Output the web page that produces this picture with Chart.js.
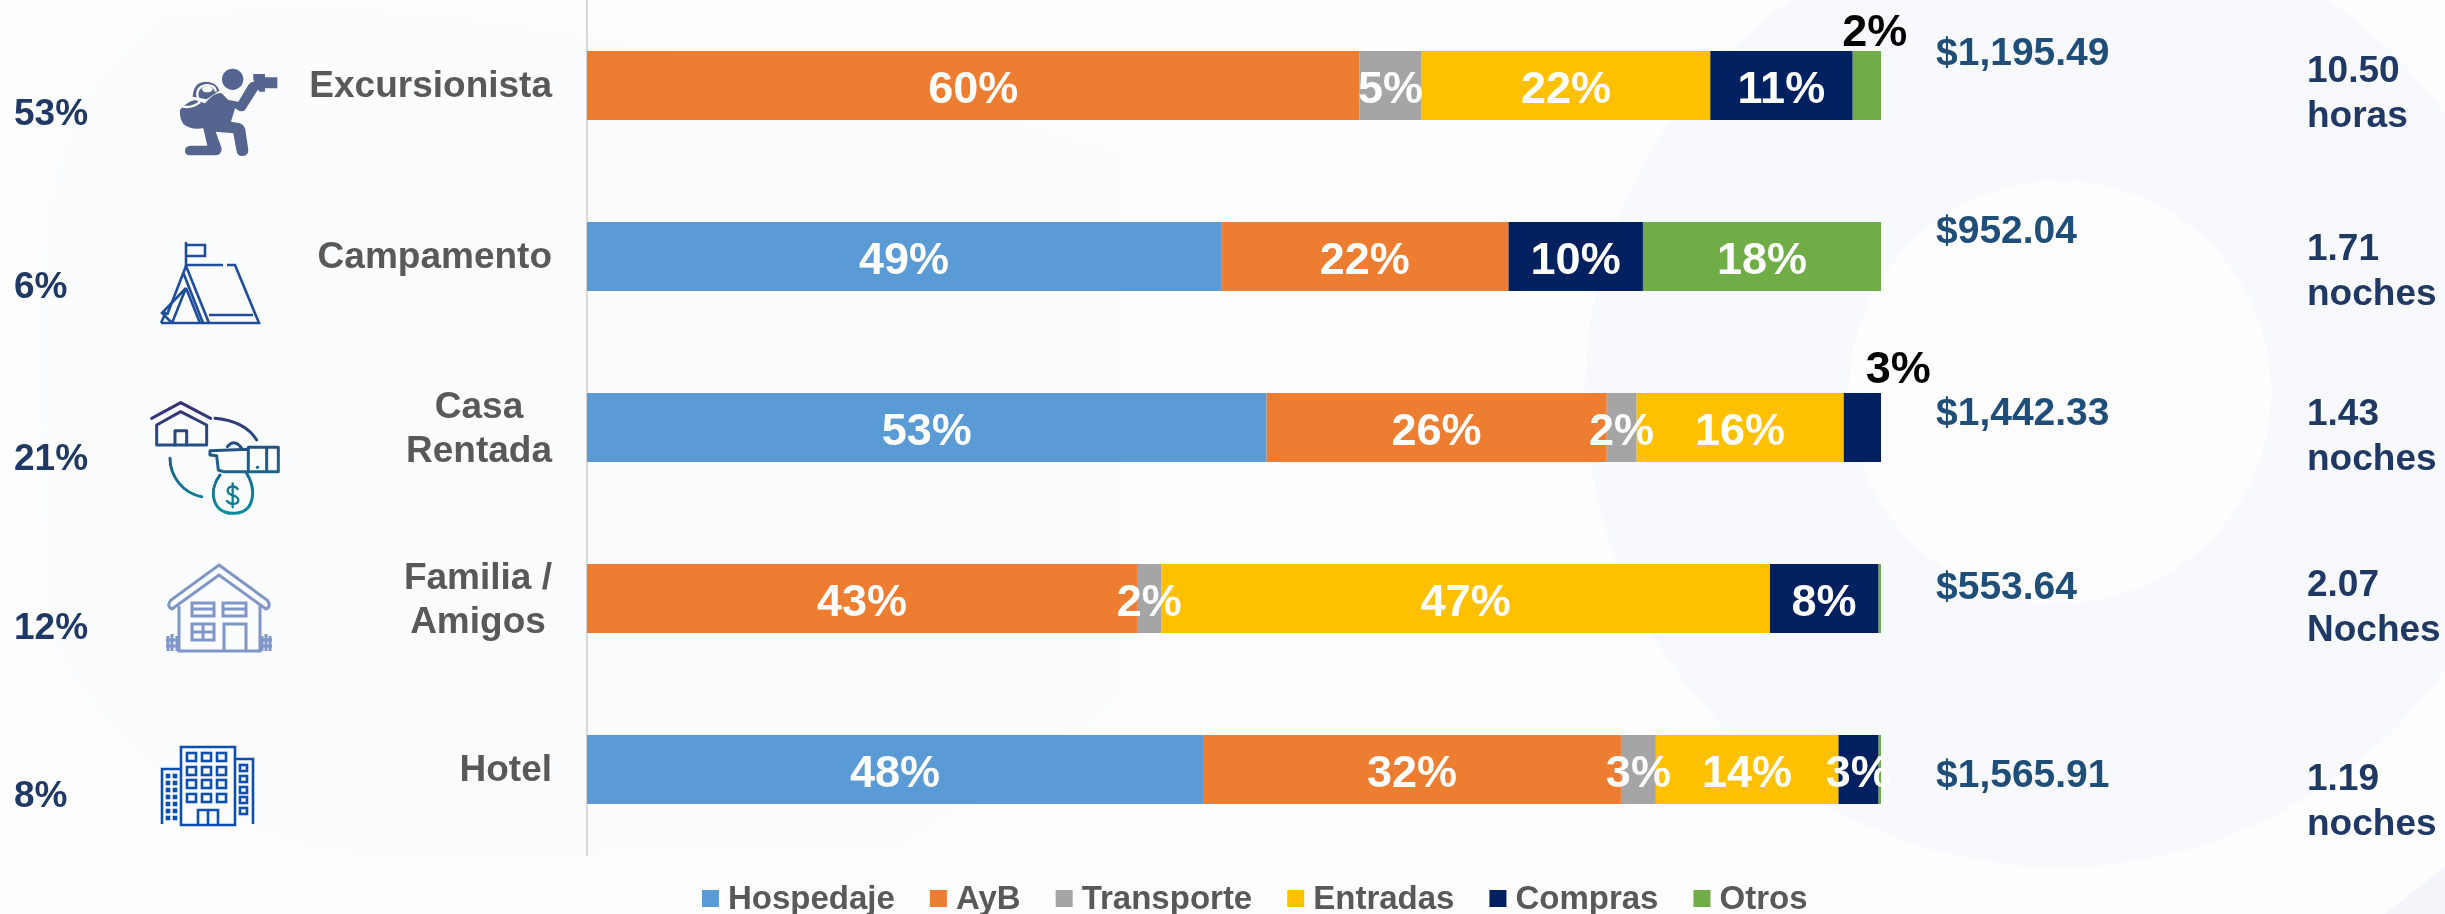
<!DOCTYPE html>
<html lang="es">
<head>
<meta charset="UTF-8">
<title>Gasto por tipo de hospedaje</title>
<script src="https://cdn.jsdelivr.net/npm/chart.js@4"></script>
<style>
    html, body { margin: 0; padding: 0; background: #fdfdfe; overflow: hidden; }
    #wrap { position: relative; width: 2445px; height: 914px; }
    #wrap svg, #wrap canvas { position: absolute; left: 0; top: 0; }
</style>
</head>
<body>
<div id="wrap">
    <!-- faint watermark behind the chart -->
    <svg width="2445" height="914" viewBox="0 0 2445 914">
        <path d="M158 17 C90 70 40 150 40 300 C40 480 40 600 59 656 C120 760 220 830 316 850 C420 870 520 860 640 853 L900 853 C960 800 1010 800 1040 780 L1120 700 L1120 150 L1020 120 L620 40 C420 0 260 0 158 17 Z" fill="#fbfcfe"/>
        <circle cx="2060" cy="392" r="475" fill="#f7f9fc"/>
        <circle cx="2060" cy="392" r="211" fill="#fdfdfe"/>
        <path d="M2385 914 L2445 867 V914 Z" fill="#f3f5fa"/>
    </svg>

    <!-- icons -->
    <svg width="2445" height="914" viewBox="0 0 2445 914">
        <defs>
            <linearGradient id="moneyGrad" gradientUnits="userSpaceOnUse" x1="0" y1="30" x2="0" y2="370">
                <stop offset="0" stop-color="#3c2a78"/>
                <stop offset="0.5" stop-color="#1f5a86"/>
                <stop offset="1" stop-color="#0a8c9c"/>
            </linearGradient>
        </defs>

        <!-- excursionista -->
        <g transform="translate(150 50) scale(0.3333)" fill="#56658f">
            <circle cx="248" cy="88" r="32"/>
            <path d="M310 72 H345 V82 H382 V115 H345 V125 H328 L310 90 Z"/>
            <path d="M90 180 Q110 155 135 150 L165 160 Q195 125 215 130 L235 150 L265 155 L295 105 Q305 90 320 98 Q330 108 322 122 L285 180 Q275 190 255 175 L243 215 L270 220 Q285 225 287 245 L295 300 Q295 318 275 318 Q262 318 259 300 L250 250 L197 245 L215 295 Q215 315 198 316 H120 Q105 315 105 302 Q105 288 122 287 H172 L160 235 Q120 240 100 222 Q88 205 90 180 Z"/>
            <path d="M128 140 Q130 98 165 95 Q200 95 208 122 L170 148 Z"/>
            <path d="M98 170 Q125 175 148 158 L142 135 Q140 112 165 106 Q195 104 198 125" fill="none" stroke="#fbfcfe" stroke-width="7"/>
            <ellipse cx="172" cy="118" rx="16" ry="9" fill="#fbfcfe"/>
        </g>

        <!-- campamento -->
        <g fill="none" stroke="#1f4e9c" stroke-width="2.6">
            <path d="M186 268 V242 M186 245 h19 v11 h-19"/>
            <path d="M186 265 H223 M227 265 H235 L259 323 H161"/>
            <path d="M186 266 L167 315 M186 266 L209 323 M183 272 L203 323"/>
            <path d="M186 288 L172 323 M186 288 L200 323 M186 288 L162 313 L172 323 M161 323 L166 312"/>
            <path d="M209 315 H253"/>
        </g>

        <!-- casa rentada -->
        <g transform="translate(140 390) scale(0.3333)" fill="none" stroke="url(#moneyGrad)" stroke-width="9" stroke-linecap="round" stroke-linejoin="round">
            <path d="M35 85 L122 38 L212 85"/>
            <path d="M50 165 V105 L122 65 L200 105 V165 Z"/>
            <path d="M105 165 V122 H140 V165"/>
            <path d="M225 85 C280 90 325 110 350 150"/>
            <path d="M90 205 C90 260 130 310 185 320"/>
            <path d="M210 182 L325 178 V245 H250 L235 240 L230 197 L210 195 Z"/>
            <path d="M262 170 Q285 145 305 175"/>
            <path d="M325 172 H415 V245 H325 M380 172 V245"/>
            <path d="M352 232 h1"/>
            <path d="M240 255 C205 300 215 370 280 370 C345 370 350 300 320 250"/>
            <path d="M293 297 C285 285 263 288 263 302 C263 320 295 312 295 330 C295 345 270 345 261 333 M278 280 V352" stroke-width="7"/>
        </g>

        <!-- familia / amigos -->
        <g fill="none" stroke="#8096c8" stroke-width="3">
            <path d="M219 565 L267 600 Q272 606 266 609 L219 575 L172 609 Q166 606 171 600 Z"/>
            <path d="M179 606 V651 H260 V606"/>
            <path d="M192 603 H214 V616 H192 Z M192 609 H214 M223 603 H246 V616 H223 Z M223 609 H246"/>
            <path d="M192 624 H214 V640 H192 Z M203 624 V640 M192 632 H214"/>
            <path d="M224 651 V624 H246 V651"/>
            <path d="M168 636 V651 M172 634 V651 M177 636 V651 M166 640 H179 M166 646 H179"/>
            <path d="M262 636 V651 M266 634 V651 M270 636 V651 M260 640 H272 M260 646 H272"/>
        </g>

        <!-- hotel -->
        <g id="hotelIcon" fill="none" stroke="#0b50b0" stroke-width="2.6">
            <path d="M181 825 V747 H235 V825 Z"/>
            <path d="M181 769 H162 V824 M235 759 H253 V824"/>
            <path d="M198 825 V810 H218 V825 M208 810 V825"/>
        </g>
    </svg>

    <canvas id="myChart" width="2445" height="914"></canvas>
</div>

<script>
    const categories = ['Excursionista', 'Campamento', ['Casa', 'Rentada'], ['Familia /', 'Amigos'], 'Hotel'];

    const hospedaje  = [0, 49.0, 52.5, 0, 47.6];
    const ayb        = [59.7, 22.2, 26.3, 42.5, 32.3];
    const transporte = [4.8, 0, 2.3, 1.9, 2.7];
    const entradas   = [22.3, 0, 16.0, 47.0, 14.1];
    const compras    = [11.0, 10.4, 2.9, 8.4, 3.1];
    const otros      = [2.2, 18.4, 0, 0.2, 0.2];

    const shareLabels = ['53%', '6%', '21%', '12%', '8%'];
    const spendLabels = ['$1,195.49', '$952.04', '$1,442.33', '$553.64', '$1,565.91'];
    const stayValues  = ['10.50', '1.71', '1.43', '2.07', '1.19'];
    const stayUnits   = ['horas', 'noches', 'noches', 'Noches', 'noches'];

    // baseline offsets from the row centre, the columns are not evenly spaced in the original
    const shareOffsets = [39.5, 41.5, 42.5, 40.5, 37.5];
    const spendOffsets = [-20.5, -13.5, -2.5, 0.5, 17.5];
    const stayOffsets  = [-3.5, 3.5, -2.5, -2.5, 20.5];

    const FONT = '"Liberation Sans", Arial, sans-serif';

    // hotel windows
    const hotelIcon = document.getElementById('hotelIcon');
    function addRect(x, y, w, h, group) {
        const r = document.createElementNS('http://www.w3.org/2000/svg', 'rect');
        r.setAttribute('x', x);
        r.setAttribute('y', y);
        r.setAttribute('width', w);
        r.setAttribute('height', h);
        group.appendChild(r);
    }
    [187, 202, 217].forEach(function(x) {
        [753, 767, 780, 794].forEach(function(y) { addRect(x, y, 9, 8, hotelIcon); });
    });
    [765, 776, 787, 797, 808].forEach(function(y) { addRect(240, y, 7, 6, hotelIcon); });
    [167, 174].forEach(function(x) {
        for (let y = 775; y < 820; y += 7) { addRect(x, y, 2, 2, hotelIcon); }
    });

    // percent labels inside the segments, two of them sit above the bar in black
    const outsideLabels = { '5-0': [8, -57], '4-2': [36, -62] };

    const barLabels = {
        id: 'barLabels',
        afterDatasetsDraw(chart) {
            const ctx = chart.ctx;
            ctx.save();
            ctx.font = 'bold 45px ' + FONT;
            ctx.textAlign = 'center';
            ctx.textBaseline = 'alphabetic';
            chart.data.datasets.forEach(function(ds, i) {
                const bars = chart.getDatasetMeta(i).data;
                ds.data.forEach(function(v, j) {
                    if (v < 1) return;
                    const out = outsideLabels[i + '-' + j];
                    ctx.fillStyle = out ? '#000000' : '#ffffff';
                    const x = bars[j].base + (bars[j].x - bars[j].base) / 2 + (out ? out[0] : 0);
                    const y = bars[j].y + 17 + (out ? out[1] : 0);
                    ctx.fillText(Math.round(v) + '%', x, y);
                });
            });
            ctx.restore();
        }
    };

    const sideColumns = {
        id: 'sideColumns',
        afterDraw(chart) {
            const ctx = chart.ctx;
            const yAxis = chart.scales.y;
            ctx.save();
            ctx.textBaseline = 'alphabetic';
            categories.forEach(function(cat, i) {
                const y = yAxis.getPixelForValue(i);

                // row names, two line ones are centred on each other
                ctx.font = 'bold 37px ' + FONT;
                ctx.fillStyle = '#595959';
                if (Array.isArray(cat)) {
                    const w = Math.max(ctx.measureText(cat[0]).width, ctx.measureText(cat[1]).width);
                    ctx.textAlign = 'center';
                    ctx.fillText(cat[0], 552 - w / 2, y - 10);
                    ctx.fillText(cat[1], 552 - w / 2, y + 34);
                } else {
                    ctx.textAlign = 'right';
                    ctx.fillText(cat, 552, y + 11);
                }

                ctx.textAlign = 'left';
                ctx.font = 'bold 37px ' + FONT;
                ctx.fillStyle = '#1f3864';
                ctx.fillText(shareLabels[i], 14, y + shareOffsets[i]);
                ctx.fillText(stayValues[i], 2307, y + stayOffsets[i]);
                ctx.fillText(stayUnits[i], 2307, y + stayOffsets[i] + 45);

                ctx.font = 'bold 39px ' + FONT;
                ctx.fillStyle = '#1f4e79';
                ctx.fillText(spendLabels[i], 1936, y + spendOffsets[i]);
            });

            // legend, own drawing because the gaps differ from the built in one
            ctx.font = 'bold 33px ' + FONT;
            ctx.textAlign = 'left';
            let x = 702;
            chart.data.datasets.forEach(function(ds) {
                ctx.fillStyle = ds.backgroundColor;
                ctx.fillRect(x, 890, 17, 17);
                ctx.fillStyle = '#595959';
                ctx.fillText(ds.label, x + 26, 909);
                x += 26 + ctx.measureText(ds.label).width + 35;
            });
            ctx.restore();
        }
    };

    const ctx = document.getElementById('myChart').getContext('2d');
    const myChart = new Chart(ctx, {
        type: 'bar',
        data: {
            labels: categories,
            datasets: [
                { label: 'Hospedaje', data: hospedaje, backgroundColor: '#5b9bd5' },
                { label: 'AyB', data: ayb, backgroundColor: '#ed7d31' },
                { label: 'Transporte', data: transporte, backgroundColor: '#a5a5a5' },
                { label: 'Entradas', data: entradas, backgroundColor: '#ffc000' },
                { label: 'Compras', data: compras, backgroundColor: '#002060' },
                { label: 'Otros', data: otros, backgroundColor: '#70ad47' }
            ]
        },
        options: {
            indexAxis: 'y',
            responsive: false,
            animation: false,
            categoryPercentage: 1,
            barPercentage: 0.4035,
            layout: { padding: { left: 587, right: 564, top: 0, bottom: 59 } },
            plugins: {
                legend: { display: false },
                tooltip: { enabled: false },
                title: { display: false }
            },
            scales: {
                x: { stacked: true, min: 0, max: 100, display: false },
                y: {
                    stacked: true,
                    afterFit: function(scale) { scale.width = 0; },
                    grid: { display: false },
                    border: { display: true, color: '#d9d9d9', width: 2 },
                    ticks: { display: false }
                }
            }
        },
        plugins: [barLabels, sideColumns]
    });
</script>
</body>
</html>
